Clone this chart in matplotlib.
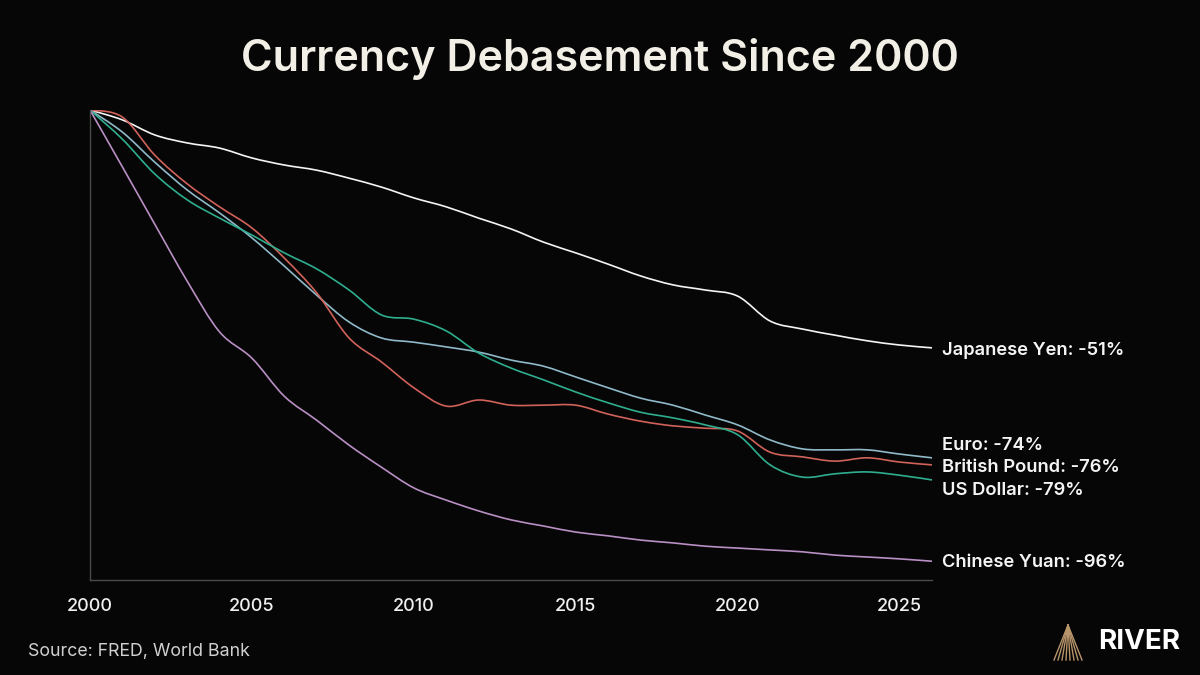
import matplotlib
matplotlib.use("Agg")
from matplotlib import pyplot as plt
from matplotlib.lines import Line2D
from matplotlib.path import Path
from matplotlib.patches import PathPatch

plt.rcParams['font.family'] = ['Inter', 'DejaVu Sans']

# purchasing power index, 2000 = 100
years = list(range(2000, 2027))
yen = [100.0, 97.9, 94.7, 93.0, 91.9, 89.8, 88.3, 87.2, 85.5, 83.6, 81.3, 79.4, 77.0, 74.7,
       71.9, 69.6, 67.2, 64.7, 62.8, 61.7, 60.4, 55.1, 53.4, 52.1, 50.9, 50.0, 49.4]
euro = [100.0, 95.3, 88.9, 83.0, 78.1, 72.8, 66.8, 60.6, 54.9, 51.5, 50.6, 49.6, 48.5, 46.8,
        45.5, 43.2, 40.9, 38.7, 37.2, 35.1, 33.0, 29.8, 27.9, 27.7, 27.7, 26.8, 26.0]
gbp = [100.0, 98.5, 90.4, 84.3, 79.4, 74.9, 68.5, 61.1, 51.5, 46.4, 40.9, 37.0, 38.3, 37.2,
       37.2, 37.2, 35.3, 33.8, 32.8, 32.3, 31.7, 27.2, 26.2, 25.3, 26.0, 25.1, 24.5]
usd = [100.0, 93.8, 86.4, 80.9, 77.0, 73.4, 69.6, 66.2, 61.7, 56.4, 55.5, 53.0, 48.3, 45.1,
       42.6, 40.0, 37.7, 35.7, 34.5, 33.0, 30.9, 24.5, 21.9, 22.6, 23.0, 22.3, 21.3]
cny = [100.0, 87.9, 75.7, 63.6, 52.8, 47.2, 39.1, 34.0, 28.7, 24.0, 19.6, 17.0, 14.7, 12.8,
       11.5, 10.2, 9.4, 8.5, 7.9, 7.2, 6.8, 6.4, 6.0, 5.3, 4.9, 4.5, 4.0]

names = ['Japanese Yen', 'Euro', 'British Pound', 'US Dollar', 'Chinese Yuan']
changes = ['-51%', '-74%', '-76%', '-79%', '-96%']
series = [yen, euro, gbp, usd, cny]
colors = ['#f4f4f4', '#8fb9c9', '#d0625a', '#2fae8f', '#b98fc4']
label_shift = [-0.6, 2.7, -0.5, -2.2, -0.2]   # spread the end labels apart


def smooth_path(xs, ys):
    # Catmull-Rom through the points, as cubic Bezier segments
    verts = [(xs[0], ys[0])]
    codes = [Path.MOVETO]
    n = len(xs)
    for i in range(n - 1):
        x0, y0 = (xs[i - 1], ys[i - 1]) if i > 0 else (xs[i], ys[i])
        x1, y1 = xs[i], ys[i]
        x2, y2 = xs[i + 1], ys[i + 1]
        x3, y3 = (xs[i + 2], ys[i + 2]) if i + 2 < n else (x2, y2)
        verts += [(x1 + (x2 - x0) / 6, y1 + (y2 - y0) / 6),
                  (x2 - (x3 - x1) / 6, y2 - (y3 - y1) / 6),
                  (x2, y2)]
        codes += [Path.CURVE4] * 3
    return Path(verts, codes)


bg = '#060606'
fig = plt.figure(figsize=(12, 6.75), dpi=100, facecolor=bg)
ax = fig.add_axes([0.075, 0.1407, 0.7017, 0.6963], facecolor=bg)

for name, vals, ch, c, dy in zip(names, series, changes, colors, label_shift):
    ax.add_patch(PathPatch(smooth_path(years, vals), fill=False, edgecolor=c, lw=1.2,
                           capstyle='round'))
    ax.text(years[-1] + 0.3, vals[-1] + dy, f'{name}: {ch}', color='#f4f4f4',
            fontsize=13.2, fontweight='semibold', va='center', ha='left', clip_on=False)

ax.set_xlim(2000, 2026)
ax.set_ylim(0, 100)
ax.set_xticks([2000, 2005, 2010, 2015, 2020, 2025])
ax.set_yticks([])
ax.tick_params(axis='x', length=0, pad=13, labelsize=13, labelcolor='#f0f0f0')
for lab in ax.get_xticklabels():
    lab.set_fontweight('medium')
for s in ['top', 'right']:
    ax.spines[s].set_visible(False)
for s in ['left', 'bottom']:
    ax.spines[s].set_color('#4a4a4a')
    ax.spines[s].set_linewidth(1.0)

fig.text(0.5, 0.912, 'Currency Debasement Since 2000', ha='center', va='center',
         color='#f2efe6', fontsize=31, fontweight='semibold')
fig.text(0.023, 0.035, 'Source: FRED, World Bank', ha='left', va='center',
         color='#d0d0d0', fontsize=12.8)

# River logo: golden fan + word mark
apex = (1068 / 1200, 1 - 625 / 675)
for bx in [1054, 1058, 1062, 1066, 1070, 1074, 1078, 1082]:
    fig.add_artist(Line2D([apex[0], bx / 1200], [apex[1], 1 - 660 / 675],
                          color='#b8956a', lw=1.0, transform=fig.transFigure))
fig.text(1139 / 1200, 1 - 642 / 675, 'RIVER', ha='center', va='center',
         color='#ffffff', fontsize=20, fontweight='bold')

fig.savefig('out.png', dpi=100, facecolor=bg)
